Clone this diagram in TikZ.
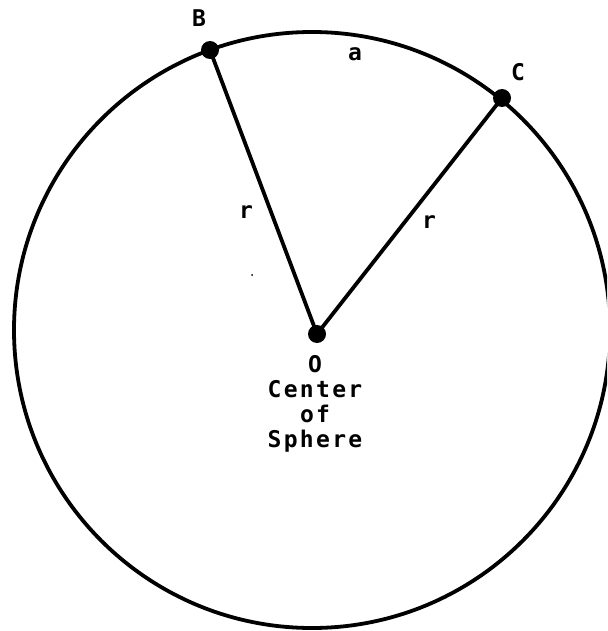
\documentclass[tikz,border=0pt]{standalone}
\usepackage{fontspec}
\newfontfamily\lblfont[LetterSpace=10]{DejaVu Sans Mono Bold}
\begin{document}
\begin{tikzpicture}[x=1pt,y=-1pt,
  rim/.style={line width=3.8pt},
  radius line/.style={line width=3.8pt},
  dotpt/.style={circle,fill=black,inner sep=0pt,minimum size=18pt},
  lbl/.style={font=\lblfont\fontsize{23}{25}\selectfont,inner sep=0pt,align=center}]
\useasboundingbox (0,0) rectangle (607,631);
\clip (0,0) rectangle (607,631);
\fill[white] (0,0) rectangle (607,631);
\draw[rim] (312,330) circle[radius=298];
\node[dotpt] (B) at (210,50) {};
\node[dotpt] (C) at (502,98) {};
\node[dotpt] (O) at (317,334) {};
\draw[radius line] (B.center) -- (O.center);
\draw[radius line] (C.center) -- (O.center);
\node[lbl] (lB) at (199,18) {B};
\node[lbl] (la) at (355,54) {a};
\node[lbl] (lC) at (518,72) {C};
\node[lbl] (r1) at (246,212) {r};
\node[lbl] (r2) at (429,222) {r};
\fill (252,275) circle[radius=1];
\node[lbl,anchor=north] (lO) at (315,355) {O\\Center\\of\\Sphere};
\end{tikzpicture}
\end{document}
